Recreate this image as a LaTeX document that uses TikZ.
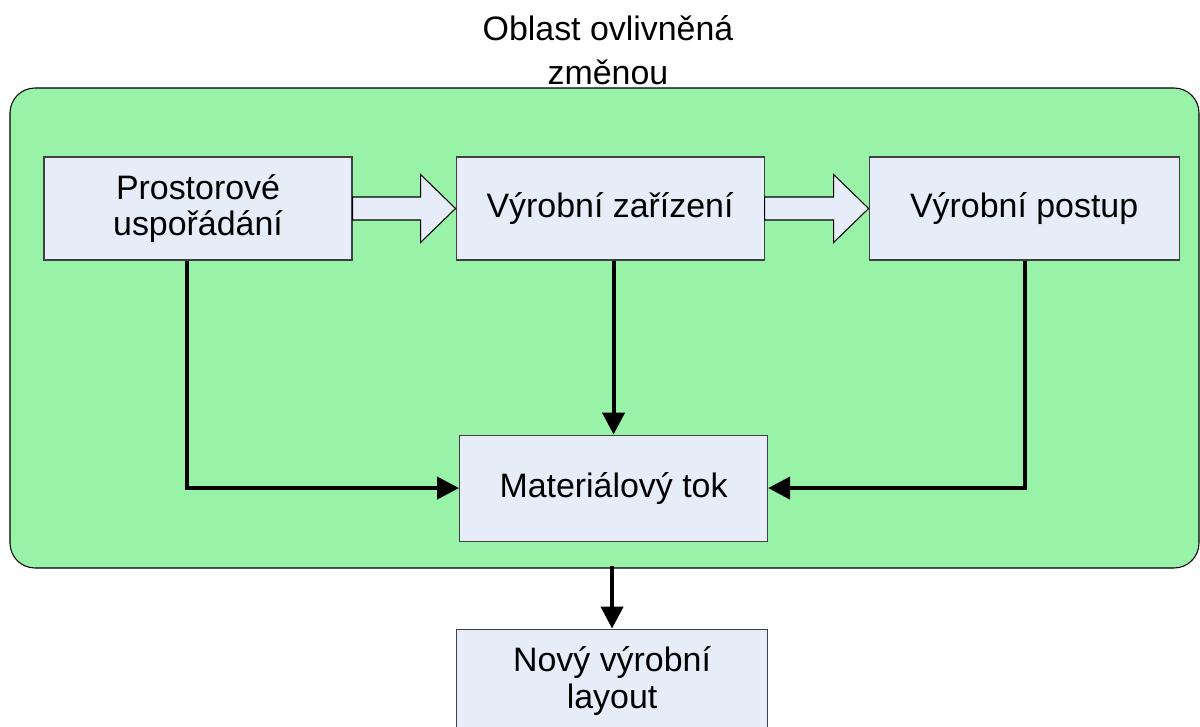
\documentclass[tikz,border=0pt]{standalone}
\usepackage{fontspec}
\setmainfont{Liberation Sans}
\usepackage{xcolor}
\usepackage{tikz}
\usetikzlibrary{positioning,arrows.meta,calc}
\definecolor{areagreen}{HTML}{98F2A8}
\definecolor{boxfill}{HTML}{E6ECF8}
\definecolor{boxline}{HTML}{404040}
\tikzset{
    stagebox/.style={
        draw=boxline, fill=boxfill, line width=0.6pt,
        minimum width=6.16cm, minimum height=2.06cm,
        font=\fontsize{19.3}{21}\selectfont, align=center
    },
    areabox/.style={
        draw=black, fill=areagreen, line width=0.6pt, rounded corners=0.5cm,
        minimum width=23.78cm, minimum height=9.6cm
    },
    blockarrow/.style={draw=black, fill=boxfill, line width=0.6pt},
    flowline/.style={-{Triangle[length=0.44cm,width=0.44cm]}, line width=2.3pt, color=black},
}
\begin{document}
\begin{tikzpicture}[node distance=2.06cm]
    \clip (0,0) rectangle (24,-14.52);
    \node[font=\fontsize{19.3}{25}\selectfont, align=center] (nadpis) at (12.16,-1.0) {Oblast ovlivněná\\změnou};
    \node[areabox] (oblast) at (12.09,-6.56) {};
    \node[stagebox] (prost) at (3.96,-4.17) {Prostorové\\uspořádání};
    \node[stagebox, right=of prost] (vyrzar) {Výrobní zařízení};
    \node[stagebox, right=2.08cm of vyrzar, minimum width=6.2cm] (vyrpos) {Výrobní postup};
    \node[stagebox, below=3.48cm of vyrzar, xshift=0.07cm, minimum height=2.12cm] (mat) {Materiálový tok};
    \node[stagebox, below=1.74cm of mat, xshift=-0.03cm, minimum width=6.22cm] (novy) {Nový výrobní\\layout};
    % block arrows between the stages
    \draw[blockarrow] ($(prost.east)+(0,0.23)$) -- ($(vyrzar.west)+(-0.7,0.23)$) -- ($(vyrzar.west)+(-0.7,0.68)$)
        -- (vyrzar.west) -- ($(vyrzar.west)+(-0.7,-0.68)$) -- ($(vyrzar.west)+(-0.7,-0.23)$) -- ($(prost.east)+(0,-0.23)$) -- cycle;
    \draw[blockarrow] ($(vyrzar.east)+(0,0.23)$) -- ($(vyrpos.west)+(-0.7,0.23)$) -- ($(vyrpos.west)+(-0.7,0.68)$)
        -- (vyrpos.west) -- ($(vyrpos.west)+(-0.7,-0.68)$) -- ($(vyrpos.west)+(-0.7,-0.23)$) -- ($(vyrzar.east)+(0,-0.23)$) -- cycle;
    % flows into the material flow
    \draw[flowline] ([xshift=-0.22cm]prost.south) |- (mat.west);
    \draw[flowline] (vyrzar.south -| mat.north) -- (mat.north);
    \draw[flowline] ([xshift=0.02cm]vyrpos.south) |- (mat.east);
    \coordinate (vystup) at (oblast.south -| novy.north);
    \draw[flowline] ([yshift=0.05cm]vystup) -- (novy.north);
\end{tikzpicture}
\end{document}
